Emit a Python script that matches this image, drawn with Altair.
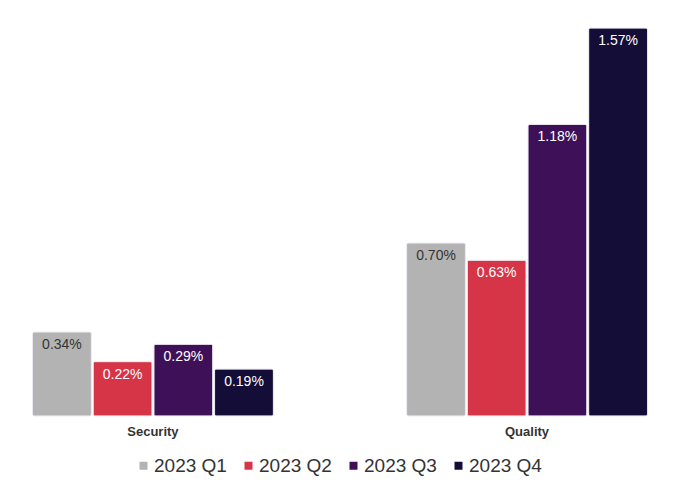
import altair as alt
import pandas as pd

categories = ["Security", "Quality"]
quarters = ["2023 Q1", "2023 Q2", "2023 Q3", "2023 Q4"]
security = [0.34, 0.22, 0.29, 0.19]
quality = [0.70, 0.63, 1.18, 1.57]
colors = ["#b3b3b3", "#d63447", "#3e1058", "#140d37"]
text_colors = ["#333333", "#ffffff", "#ffffff", "#ffffff"]

rows = []
for cat, vals in zip(categories, [security, quality]):
    for q, v, tc in zip(quarters, vals, text_colors):
        rows.append({"category": cat, "quarter": q, "value": v,
                     "label": f"{v:.2f}%", "tc": tc})
df = pd.DataFrame(rows)

x = alt.X("category:N", sort=categories, title=None,
          scale=alt.Scale(paddingInner=0.356, paddingOuter=0.0655),
          axis=alt.Axis(labelAngle=0, domain=False, ticks=False, labelFontWeight="bold",
                        labelFont="Liberation Sans", labelFontSize=13, labelColor="#333333",
                        labelPadding=9))
xo = alt.XOffset("quarter:N", sort=quarters, scale=alt.Scale(paddingInner=0.03))
y = alt.Y("value:Q", scale=alt.Scale(domain=[0, 1.651], nice=False), axis=None)

bars = alt.Chart(df).mark_bar(cornerRadius=2, stroke="#e8e4ee", strokeWidth=0.8).encode(
    x=x, xOffset=xo, y=y,
    color=alt.Color("quarter:N", sort=quarters,
                    scale=alt.Scale(domain=quarters, range=colors),
                    legend=alt.Legend(title=None, orient="none", direction="horizontal",
                                      legendX=126, legendY=448,
                                      symbolType="square", symbolSize=64, symbolStrokeWidth=0,
                                      labelFont="Liberation Sans", labelFontSize=19,
                                      labelColor="#333333", labelOffset=1, columnPadding=12))
)

text = alt.Chart(df).mark_text(baseline="middle", dy=13, font="Liberation Sans",
                               fontSize=14).encode(
    x=x, xOffset=xo, y=y, text="label:N",
    color=alt.Color("tc:N", scale=None)
)

chart = alt.layer(bars, text).properties(
    width=664, height=408, padding=0
).configure_view(stroke=None)

chart.save("out.html", embed_options={"renderer": "svg", "actions": False})
